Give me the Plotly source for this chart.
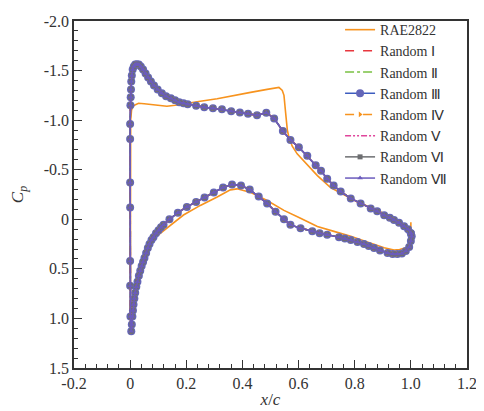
import plotly.graph_objects as go

# ---------------- data ----------------
# Baseline RAE2822 (ordered: lower TE -> LE -> upper TE -> TE spike)
rae_x = [1.0, 0.994, 0.982, 0.96, 0.94, 0.905, 0.845, 0.786, 0.726, 0.667, 0.607,
         0.548, 0.488, 0.43, 0.381, 0.357, 0.31, 0.25, 0.19, 0.131, 0.095, 0.07,
         0.05, 0.035, 0.025, 0.016, 0.01, 0.006, 0.004, 0.002, 0.001, 0.001, 0.002,
         0.005, 0.01, 0.015, 0.03, 0.05, 0.071, 0.1, 0.131, 0.16, 0.19, 0.25, 0.31,
         0.369, 0.429, 0.488, 0.515, 0.53, 0.542, 0.548, 0.554, 0.56, 0.565, 0.577,
         0.595, 0.619, 0.667, 0.714, 0.762, 0.81, 0.857, 0.905, 0.952, 0.988, 1.0, 1.0]
rae_cp = [0.2, 0.26, 0.287, 0.305, 0.31, 0.287, 0.228, 0.17, 0.122, 0.073, -0.01,
          -0.09, -0.19, -0.27, -0.307, -0.297, -0.225, -0.14, -0.043, 0.09, 0.17, 0.25,
          0.36, 0.48, 0.6, 0.75, 0.88, 1.0, 1.1, 1.05, 0.5, -0.5, -1.0,
          -1.1, -1.14, -1.15, -1.17, -1.165, -1.158, -1.15, -1.14, -1.15, -1.165, -1.19, -1.215,
          -1.25, -1.28, -1.31, -1.325, -1.33, -1.30, -1.25, -1.07, -0.9, -0.835, -0.74,
          -0.66, -0.59, -0.44, -0.32, -0.25, -0.175, -0.12, -0.06, 0.023, 0.106, 0.16, 0.03]

# Optimised airfoils (Random I - VII overlap): upper TE -> LE -> lower TE
opt_x = [1.0, 0.99, 0.976, 0.958, 0.94, 0.925, 0.905, 0.88, 0.857, 0.821, 0.786,
         0.75, 0.725, 0.702, 0.68, 0.661, 0.631, 0.601, 0.571, 0.544, 0.513, 0.485,
         0.452, 0.42, 0.391, 0.36, 0.327, 0.295, 0.264, 0.235, 0.205, 0.19, 0.175,
         0.16, 0.145, 0.128, 0.113, 0.098, 0.085, 0.074, 0.064, 0.055, 0.046, 0.038,
         0.031, 0.024, 0.018, 0.013, 0.009, 0.006, 0.004, 0.003, 0.002, 0.001, 0.0,
         0.0, 0.0, 0.0, 0.0, 0.0, 0.001, 0.004,
         0.006, 0.008, 0.01, 0.012, 0.015, 0.018, 0.022, 0.026, 0.031, 0.036, 0.041,
         0.046, 0.051, 0.057, 0.063, 0.069, 0.076, 0.083, 0.092, 0.101, 0.11, 0.119,
         0.14, 0.17, 0.202, 0.235, 0.265, 0.298, 0.331, 0.363, 0.395, 0.426, 0.458,
         0.488, 0.518, 0.548, 0.571, 0.607, 0.649, 0.675, 0.702, 0.744, 0.765, 0.786,
         0.81, 0.833, 0.85, 0.869, 0.89, 0.917, 0.935, 0.952, 0.968, 0.982, 0.994,
         1.0, 1.003, 1.0]
opt_cp = [0.14, 0.10, 0.07, 0.035, 0.007, -0.015, -0.04, -0.08, -0.11, -0.16, -0.21,
          -0.28, -0.34, -0.41, -0.49, -0.545, -0.64, -0.726, -0.80, -0.89, -1.017, -1.075,
          -1.05, -1.065, -1.076, -1.09, -1.11, -1.12, -1.13, -1.145, -1.16, -1.17, -1.18,
          -1.20, -1.22, -1.24, -1.27, -1.31, -1.35, -1.39, -1.43, -1.47, -1.51, -1.54,
          -1.56, -1.565, -1.56, -1.54, -1.51, -1.45, -1.39, -1.31, -1.23, -1.15, -0.96,
          -0.81, -0.37, -0.12, 0.42, 0.67, 0.98, 1.13,
          1.06, 0.98, 0.92, 0.86, 0.80, 0.74, 0.68, 0.63, 0.57, 0.52, 0.47,
          0.43, 0.39, 0.34, 0.29, 0.25, 0.21, 0.18, 0.14, 0.11, 0.08, 0.056,
          0.0, -0.066, -0.125, -0.175, -0.22, -0.27, -0.32, -0.35, -0.34, -0.30, -0.23,
          -0.16, -0.076, 0.0, 0.056, 0.09, 0.12, 0.14, 0.155, 0.18, 0.195, 0.21,
          0.23, 0.25, 0.27, 0.29, 0.315, 0.34, 0.35, 0.35, 0.345, 0.32, 0.28,
          0.22, 0.17, 0.14]

series_names = ["Random \u2160", "Random \u2161", "Random \u2162", "Random \u2163",
                "Random \u2164", "Random \u2165", "Random \u2166"]

x_ticks = [-0.2, 0, 0.2, 0.4, 0.6, 0.8, 1.0, 1.2]
x_tick_text = ["-0.2", "0", "0.2", "0.4", "0.6", "0.8", "1.0", "1.2"]
y_ticks = [-2.0, -1.5, -1.0, -0.5, 0, 0.5, 1.0, 1.5]
y_tick_text = ["-2.0", "-1.5", "-1.0", "-0.5", "0", "0.5", "1.0", "1.5"]

# ---------------- styles ----------------
FONT = "Liberation Serif, Times New Roman, serif"
styles = [
    dict(color="#e8373e", dash="dash", marker=None),
    dict(color="#7ac143", dash="dashdot", marker=None),
    dict(color="#3c5cbf", dash="solid", marker=dict(symbol="circle", size=8, color="#6466b8")),
    dict(color="#f7931e", dash="dash", marker=dict(symbol="triangle-right", size=5, color="#f7931e")),
    dict(color="#e0459b", dash="6px,2px,2px,2px,2px,2px", marker=None),
    dict(color="#6d6e71", dash="solid", marker=dict(symbol="square", size=5, color="#6d6e71")),
    dict(color="#6b5bbd", dash="solid", marker=dict(symbol="triangle-up", size=5, color="#6b5bbd")),
]

fig = go.Figure()
fig.add_trace(go.Scatter(x=rae_x, y=rae_cp, mode="lines", name="RAE2822",
                         line=dict(color="#f7931e", width=1.6)))
for name, st in zip(series_names, styles):
    if st["marker"] is None:
        fig.add_trace(go.Scatter(x=opt_x, y=opt_cp, mode="lines", name=name,
                                 line=dict(color=st["color"], width=1.5, dash=st["dash"])))
    else:
        fig.add_trace(go.Scatter(x=opt_x, y=opt_cp, mode="lines+markers", name=name,
                                 line=dict(color=st["color"], width=1.5, dash=st["dash"]),
                                 marker=st["marker"]))

axis_common = dict(showline=True, linecolor="#333", linewidth=1.5, mirror=True,
                   ticks="inside", ticklen=8, tickwidth=1, tickcolor="#333",
                   showgrid=False, zeroline=False, automargin=False,
                   tickfont=dict(family=FONT, size=16, color="#333"))

# page body adds an 8px offset; figure sized to fill the remaining window
fig.update_layout(
    width=476, height=403,
    margin=dict(l=66, r=17, t=6, b=43),
    paper_bgcolor="white", plot_bgcolor="white",
    font=dict(family=FONT, size=16, color="#333"),
    showlegend=True,
    legend=dict(x=0.677, y=1.02, xanchor="left", yanchor="top",
                bgcolor="rgba(0,0,0,0)", borderwidth=0,
                font=dict(family=FONT, size=14, color="#333"),
                tracegroupgap=0, itemwidth=30),
    xaxis=dict(range=[-0.2, 1.2], tickvals=x_ticks, ticktext=x_tick_text,
               minor=dict(dtick=0.04, ticks="inside", ticklen=4, tickcolor="#333"),
               title=dict(text="<i>x</i>/<i>c</i>", font=dict(family=FONT, size=17), standoff=2),
               **axis_common),
    yaxis=dict(range=[1.5, -2.0], tickvals=y_ticks, ticktext=y_tick_text,
               minor=dict(dtick=0.1, ticks="inside", ticklen=4, tickcolor="#333"),
               title=dict(text="<i>C<sub>p</sub></i>", font=dict(family=FONT, size=17), standoff=17),
               **axis_common),
)

fig.write_html("out.html")
